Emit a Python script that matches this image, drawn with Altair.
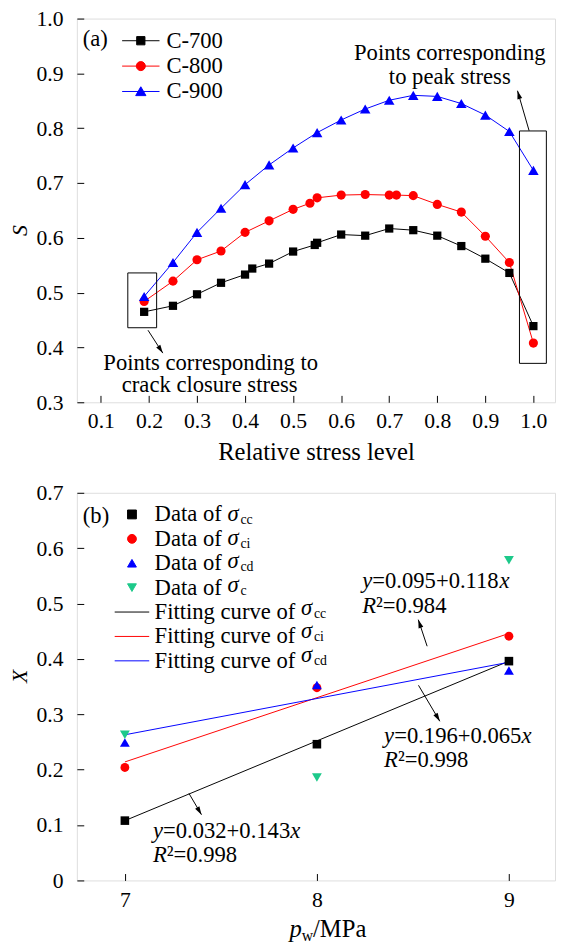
import math
import altair as alt
import pandas as pd

FONT = "Liberation Serif"
BLACK, RED, BLUE, GREEN = "#000000", "#ff0000", "#0000ff", "#1dc98a"

# ---------------- Panel (a): S vs relative stress level ----------------
a_names = ["C-700", "C-800", "C-900"]
a_colors = [BLACK, RED, BLUE]
x700 = [0.19, 0.25, 0.30, 0.35, 0.40, 0.415, 0.45, 0.50, 0.545, 0.55, 0.60, 0.65, 0.70, 0.75, 0.80, 0.85, 0.90, 0.95, 1.00]
s700 = [0.465, 0.476, 0.497, 0.518, 0.533, 0.544, 0.553, 0.575, 0.587, 0.591, 0.606, 0.604, 0.617, 0.614, 0.604, 0.585, 0.562, 0.536, 0.439]
x800 = [0.19, 0.25, 0.30, 0.35, 0.40, 0.45, 0.50, 0.535, 0.55, 0.60, 0.65, 0.70, 0.715, 0.75, 0.80, 0.85, 0.90, 0.95, 1.00]
s800 = [0.484, 0.521, 0.560, 0.576, 0.610, 0.631, 0.652, 0.663, 0.673, 0.678, 0.679, 0.678, 0.678, 0.677, 0.661, 0.647, 0.603, 0.555, 0.408]
x900 = [0.19, 0.25, 0.30, 0.35, 0.40, 0.45, 0.50, 0.55, 0.60, 0.65, 0.70, 0.75, 0.80, 0.85, 0.90, 0.95, 1.00]
s900 = [0.493, 0.555, 0.610, 0.654, 0.697, 0.733, 0.764, 0.792, 0.815, 0.835, 0.851, 0.860, 0.858, 0.845, 0.824, 0.794, 0.723]
a_xticks = [0.1, 0.2, 0.3, 0.4, 0.5, 0.6, 0.7, 0.8, 0.9, 1.0]
a_yticks = [0.3, 0.4, 0.5, 0.6, 0.7, 0.8, 0.9, 1.0]

# annotations (data coordinates)
a_note_text = ["Points corresponding", "to peak stress", "Points corresponding to", "crack closure stress"]
a_note_x = [0.826, 0.826, 0.3285, 0.3264]
a_note_y = [0.9246, 0.8815, 0.3597, 0.3179]
a_rect_x = [0.156, 0.971]
a_rect_x2 = [0.216, 1.027]
a_rect_y = [0.436, 0.371]
a_rect_y2 = [0.536, 0.795]
a_arrow_x = [0.198, 0.9911]
a_arrow_y = [0.4315, 0.7954]
a_arrow_x2 = [0.2288, 0.9669]
a_arrow_y2 = [0.3897, 0.8684]

# ---------------- Panel (b): X vs p_w ----------------
pw = [7, 8, 9]
x_cc = [0.108, 0.246, 0.396]
x_ci = [0.204, 0.348, 0.441]
x_cd = [0.249, 0.353, 0.379]
x_c = [0.263, 0.186, 0.578]
fit_x = [7, 9]
fit_cc = [0.108, 0.396]
fit_ci = [0.214, 0.446]
fit_cd = [0.263, 0.394]
b_xticks = [7, 8, 9]
b_yticks = [0.0, 0.1, 0.2, 0.3, 0.4, 0.5, 0.6, 0.7]

eq_x = [8.236, 8.350, 7.146]
eq_y = [0.5272, 0.2488, 0.0771]
eq_r_y = [0.4838, 0.2044, 0.0327]
eq_a = ["0.095", "0.196", "0.032"]
eq_b = ["0.118", "0.065", "0.143"]
eq_r2 = ["0.984", "0.998", "0.998"]
b_arrow_x = [8.574, 8.529, 7.334]
b_arrow_y = [0.4229, 0.3524, 0.157]
b_arrow_x2 = [8.528, 8.640, 7.399]
b_arrow_y2 = [0.4709, 0.2874, 0.1187]

b_leg_names = ["Data of", "Data of ", "Data of  ", "Data of   ",
               "Fitting curve of", "Fitting curve of ", "Fitting curve of  "]
b_leg_sub = ["cc", "ci", "cd", "c", "cc", "ci", "cd"]
b_leg_colors = [BLACK, RED, BLUE, GREEN, BLACK, RED, BLUE]

# ---------------- layout constants ----------------
AXD, AYD, AW, AH = [0.05, 1.045], [0.3, 1.0], 486, 390
BXD, BYD, BW, BH = [6.75, 9.24], [0.0, 0.7], 486, 394
APX = AW / (AXD[1] - AXD[0]); APY = AH / (AYD[1] - AYD[0])
BPX = BW / (BXD[1] - BXD[0]); BPY = BH / (BYD[1] - BYD[0])
FS = 23          # annotation / legend font size
SUB = 14         # subscript size

REG = {"0": .5, "1": .5, "2": .5, "3": .5, "4": .5, "5": .5, "6": .5, "7": .5, "8": .5, "9": .5,
       ".": .25, "=": .564, "+": .564, "\u00b2": .3, " ": .25, "/": .278, "M": .889, "P": .556,
       "a": .444, "D": .722, "t": .278, "o": .5, "f": .333, "F": .556, "i": .278, "n": .5,
       "g": .5, "c": .444, "u": .5, "r": .333, "v": .5, "e": .444, "w": .722}
ITA = {"y": .444, "x": .444, "R": .611, "p": .5, "\u03c3": .55}


def tw(s, size, italic=False):
    tab = ITA if italic else REG
    return sum(tab.get(ch, 0.5) for ch in s) * size


def sx(dom):
    return alt.Scale(domain=dom, nice=False, zero=False)


def ang(dx, dy):
    return (math.degrees(math.atan2(dx, -dy)) + 360) % 360


def lab_axis(values, orient, **kw):
    base = dict(values=values, orient=orient, domain=False, ticks=False, tickSize=0, grid=False,
                labelFont=FONT, labelFontSize=22, labelColor="black", labelFlush=False,
                labelOverlap=False, titleFont=FONT, titleColor="black", titleFontWeight="normal")
    base.update(kw)
    return alt.Axis(**base)


def tick_axis(values, orient):
    return alt.Axis(values=values, orient=orient, offset=-7, ticks=True, tickSize=7, tickWidth=1,
                    tickColor="black", labels=False, domain=False, grid=False, title=None)


ARROW = "M0,0L0.5,1.7L-0.5,1.7Z"

# ======================= PANEL (a) =======================
ax_main = lab_axis(a_xticks, "bottom", format=".1f", labelPadding=9, title="Relative stress level",
                   titleFontSize=25, titlePadding=8)
ay_main = lab_axis(a_yticks, "left", format=".1f", labelPadding=14, title="S", titleFontStyle="italic",
                   titleFontSize=22, titlePadding=4.5, titleY=215)
axes_a = [(ax_main, ay_main), (tick_axis(a_xticks, "bottom"), tick_axis(a_yticks, "left")), (None, None)]

series_a = [(x700, s700), (x800, s800), (x900, s900)]
shapes_a = ["square", "circle", "triangle-up"]
sizes_a = [70, 86, 115]
layers_a = []
for i, ((xs, ys), col) in enumerate(zip(series_a, a_colors)):
    d = pd.DataFrame({"x": xs, "s": ys})
    xa, ya = axes_a[min(i, 2)]
    layers_a.append(alt.Chart(d).mark_line(color=col, strokeWidth=1).encode(
        x=alt.X("x:Q", scale=sx(AXD), axis=xa), y=alt.Y("s:Q", scale=sx(AYD), axis=ya)))
for (xs, ys), col, shp, sz in zip(series_a, a_colors, shapes_a, sizes_a):
    d = pd.DataFrame({"x": xs, "s": ys})
    layers_a.append(alt.Chart(d).mark_point(filled=True, opacity=1, shape=shp, size=sz, color=col).encode(
        x=alt.X("x:Q", scale=sx(AXD), axis=None), y=alt.Y("s:Q", scale=sx(AYD), axis=None)))

a_leg_paths = [
    "M-4.75,0H4.75M-1.05,-1.05H1.05V1.05H-1.05Z",
    "M-4.75,0H4.75M-1.15,0A1.15,1.15,0,1,0,1.15,0A1.15,1.15,0,1,0,-1.15,0Z",
    "M-4.75,0H4.75M0,-1.2L1.3,1.05L-1.3,1.05Z",
]
leg_a = alt.Legend(title=None, orient="none", legendX=53.5, legendY=11, padding=0, offset=0,
                   labelFont=FONT, labelFontSize=FS, labelColor="black", labelOffset=14.5, labelLimit=400,
                   rowPadding=1.8, symbolSize=64, symbolStrokeWidth=1)
layers_a.append(alt.Chart(pd.DataFrame({"name": a_names})).transform_filter("false").mark_point(
    filled=True, opacity=1, size=64, strokeWidth=1).encode(
    x=alt.value(0), y=alt.value(0),
    fill=alt.Fill("name:N", scale=alt.Scale(domain=a_names, range=a_colors), legend=leg_a),
    stroke=alt.Stroke("name:N", scale=alt.Scale(domain=a_names, range=a_colors), legend=leg_a),
    shape=alt.Shape("name:N", scale=alt.Scale(domain=a_names, range=a_leg_paths), legend=leg_a)))

rects_a = pd.DataFrame({"x": a_rect_x, "x2": a_rect_x2, "y": a_rect_y, "y2": a_rect_y2})
layers_a.append(alt.Chart(rects_a).mark_rect(fillOpacity=0, stroke="black", strokeWidth=1).encode(
    x=alt.X("x:Q", scale=sx(AXD), axis=None), x2="x2:Q",
    y=alt.Y("y:Q", scale=sx(AYD), axis=None), y2="y2:Q"))

arr_a = pd.DataFrame({"x": a_arrow_x, "y": a_arrow_y, "x2": a_arrow_x2, "y2": a_arrow_y2})
arr_a["ang"] = [ang((x2 - x) * APX, -(y2 - y) * APY) for x, y, x2, y2 in
                zip(a_arrow_x, a_arrow_y, a_arrow_x2, a_arrow_y2)]
layers_a.append(alt.Chart(arr_a).mark_rule(color="black", strokeWidth=1).encode(
    x=alt.X("x:Q", scale=sx(AXD), axis=None), x2="x2:Q",
    y=alt.Y("y:Q", scale=sx(AYD), axis=None), y2="y2:Q"))
layers_a.append(alt.Chart(arr_a).mark_point(shape=ARROW, filled=True, size=100, color="black", opacity=1).encode(
    x=alt.X("x2:Q", scale=sx(AXD), axis=None), y=alt.Y("y2:Q", scale=sx(AYD), axis=None),
    angle=alt.Angle("ang:Q", scale=None)))

notes_a = pd.DataFrame({"x": a_note_x, "y": a_note_y, "t": a_note_text})
layers_a.append(alt.Chart(notes_a).mark_text(font=FONT, fontSize=FS, align="center", baseline="alphabetic",
                                             color="black").encode(
    x=alt.X("x:Q", scale=sx(AXD), axis=None), y=alt.Y("y:Q", scale=sx(AYD), axis=None), text="t:N"))
layers_a.append(alt.Chart(pd.DataFrame({"x": [0.0623], "y": [0.950], "t": ["(a)"]})).mark_text(
    font=FONT, fontSize=FS, align="left", baseline="alphabetic", color="black").encode(
    x=alt.X("x:Q", scale=sx(AXD), axis=None), y=alt.Y("y:Q", scale=sx(AYD), axis=None), text="t:N"))

panel_a = alt.layer(*layers_a).resolve_axis(x="independent", y="independent").properties(width=AW, height=AH)

# ======================= PANEL (b) =======================
bx_main = lab_axis(b_xticks, "bottom", format="d", labelPadding=9, title=None)
by_main = lab_axis(b_yticks, "left", labelExpr="datum.value == 0 ? '0' : format(datum.value, '.1f')",
                   labelPadding=14, title="X", titleFontStyle="italic", titleFontSize=22, titlePadding=4.5,
                   titleY=186)
axes_b = [(bx_main, by_main), (tick_axis(b_xticks, "bottom"), tick_axis(b_yticks, "left")), (None, None)]

layers_b = []
fits = [(fit_cc, BLACK), (fit_ci, RED), (fit_cd, BLUE)]
for i, (ys, col) in enumerate(fits):
    xa, ya = axes_b[min(i, 2)]
    d = pd.DataFrame({"x": fit_x, "v": ys})
    layers_b.append(alt.Chart(d).mark_line(color=col, strokeWidth=1).encode(
        x=alt.X("x:Q", scale=sx(BXD), axis=xa), y=alt.Y("v:Q", scale=sx(BYD), axis=ya)))
pts = [(x_ci, RED, "circle", 81), (x_cd, BLUE, "triangle-up", 100), (x_cc, BLACK, "square", 76),
       (x_c, GREEN, "triangle-down", 100)]
for ys, col, shp, sz in pts:
    d = pd.DataFrame({"x": pw, "v": ys})
    layers_b.append(alt.Chart(d).mark_point(filled=True, opacity=1, shape=shp, size=sz, color=col).encode(
        x=alt.X("x:Q", scale=sx(BXD), axis=None), y=alt.Y("v:Q", scale=sx(BYD), axis=None)))

LINE = "M-3.9,0H3.9"
b_leg_shapes = ["square", "circle", "triangle-up", "triangle-down", LINE, LINE, LINE]
B_LX, B_LY, B_PITCH, B_LAB = 44.5, 10.5, 23.8, 79.0
leg_b = alt.Legend(title=None, orient="none", legendX=B_LX, legendY=B_LY, padding=0, offset=0,
                   labelFont=FONT, labelFontSize=FS, labelColor="black", labelOffset=11.5, labelLimit=400,
                   rowPadding=0.8, symbolSize=81, symbolStrokeWidth=1)
layers_b.append(alt.Chart(pd.DataFrame({"name": b_leg_names})).transform_filter("false").mark_point(
    filled=True, opacity=1, size=81, strokeWidth=1).encode(
    x=alt.value(0), y=alt.value(0),
    fill=alt.Fill("name:N", scale=alt.Scale(domain=b_leg_names, range=b_leg_colors), legend=leg_b),
    stroke=alt.Stroke("name:N", scale=alt.Scale(domain=b_leg_names, range=b_leg_colors), legend=leg_b),
    shape=alt.Shape("name:N", scale=alt.Scale(domain=b_leg_names, range=b_leg_shapes), legend=leg_b)))

# sigma + subscripts following the legend labels (pixel space of the panel)
sig_rows, sub_rows = [], []
for i, (name, sub) in enumerate(zip(b_leg_names, b_leg_sub)):
    yc = 22 + B_PITCH * i
    x_sig = B_LAB + tw(name.strip() + " ", FS)
    sig_rows.append({"px": x_sig, "py": yc + 7, "t": "\u03c3"})
    sub_rows.append({"px": x_sig + tw("\u03c3", FS, True) + 0.5, "py": yc + 10, "t": sub})
# axis title p_w/MPa
ttl_it = [{"px": 216, "py": 452, "t": "p"}]
ttl_sub = [{"px": 216 + tw("p", 25, True), "py": 456, "t": "w"}]
ttl_rg = [{"px": 216 + tw("p", 25, True) + tw("w", 16), "py": 452, "t": "/MPa"}]


def pix_text(rows, size, italic):
    m = dict(font=FONT, fontSize=size, align="left", baseline="alphabetic", color="black")
    if italic:
        m["fontStyle"] = "italic"
    return alt.Chart(pd.DataFrame(rows)).mark_text(**m).encode(
        x=alt.X("px:Q", scale=None, axis=None), y=alt.Y("py:Q", scale=None, axis=None), text="t:N")


layers_b.append(pix_text(sig_rows, FS, True))
layers_b.append(pix_text(sub_rows, SUB, False))
layers_b.append(pix_text(ttl_sub, 16, False))
layers_b.append(pix_text(ttl_it, 25, True))
layers_b.append(pix_text(ttl_rg, 25, False))

# equations: italic/roman pieces
eq_it, eq_rg = [], []
for x0, y1, y2, a, b, r in zip(eq_x, eq_y, eq_r_y, eq_a, eq_b, eq_r2):
    for parts, yy in (([("y", True), ("=" + a + "+" + b, False), ("x", True)], y1),
                      ([("R", True), ("\u00b2=" + r, False)], y2)):
        off = 0.0
        for txt, it in parts:
            (eq_it if it else eq_rg).append({"x": x0 + off / BPX, "y": yy, "t": txt})
            off += tw(txt, FS, it)
for rows, it in ((eq_it, True), (eq_rg, False)):
    m = dict(font=FONT, fontSize=FS, align="left", baseline="alphabetic", color="black")
    if it:
        m["fontStyle"] = "italic"
    layers_b.append(alt.Chart(pd.DataFrame(rows)).mark_text(**m).encode(
        x=alt.X("x:Q", scale=sx(BXD), axis=None), y=alt.Y("y:Q", scale=sx(BYD), axis=None), text="t:N"))

arr_b = pd.DataFrame({"x": b_arrow_x, "y": b_arrow_y, "x2": b_arrow_x2, "y2": b_arrow_y2})
arr_b["ang"] = [ang((x2 - x) * BPX, -(y2 - y) * BPY) for x, y, x2, y2 in
                zip(b_arrow_x, b_arrow_y, b_arrow_x2, b_arrow_y2)]
layers_b.append(alt.Chart(arr_b).mark_rule(color="black", strokeWidth=1).encode(
    x=alt.X("x:Q", scale=sx(BXD), axis=None), x2="x2:Q",
    y=alt.Y("y:Q", scale=sx(BYD), axis=None), y2="y2:Q"))
layers_b.append(alt.Chart(arr_b).mark_point(shape=ARROW, filled=True, size=100, color="black", opacity=1).encode(
    x=alt.X("x2:Q", scale=sx(BXD), axis=None), y=alt.Y("y2:Q", scale=sx(BYD), axis=None),
    angle=alt.Angle("ang:Q", scale=None)))
layers_b.append(alt.Chart(pd.DataFrame({"x": [6.781], "y": [0.6455], "t": ["(b)"]})).mark_text(
    font=FONT, fontSize=FS, align="left", baseline="alphabetic", color="black").encode(
    x=alt.X("x:Q", scale=sx(BXD), axis=None), y=alt.Y("y:Q", scale=sx(BYD), axis=None), text="t:N"))

panel_b = alt.layer(*layers_b).resolve_axis(x="independent", y="independent").properties(width=BW, height=BH)

chart = alt.vconcat(panel_a, panel_b, spacing=16).resolve_scale(
    fill="independent", stroke="independent", shape="independent").properties(
    padding={"left": 0, "top": -9, "right": 0, "bottom": 0}).configure_view(
    stroke="black", strokeWidth=1).configure(font=FONT)

chart.save("out.html", embed_options={"renderer": "svg", "actions": False})
